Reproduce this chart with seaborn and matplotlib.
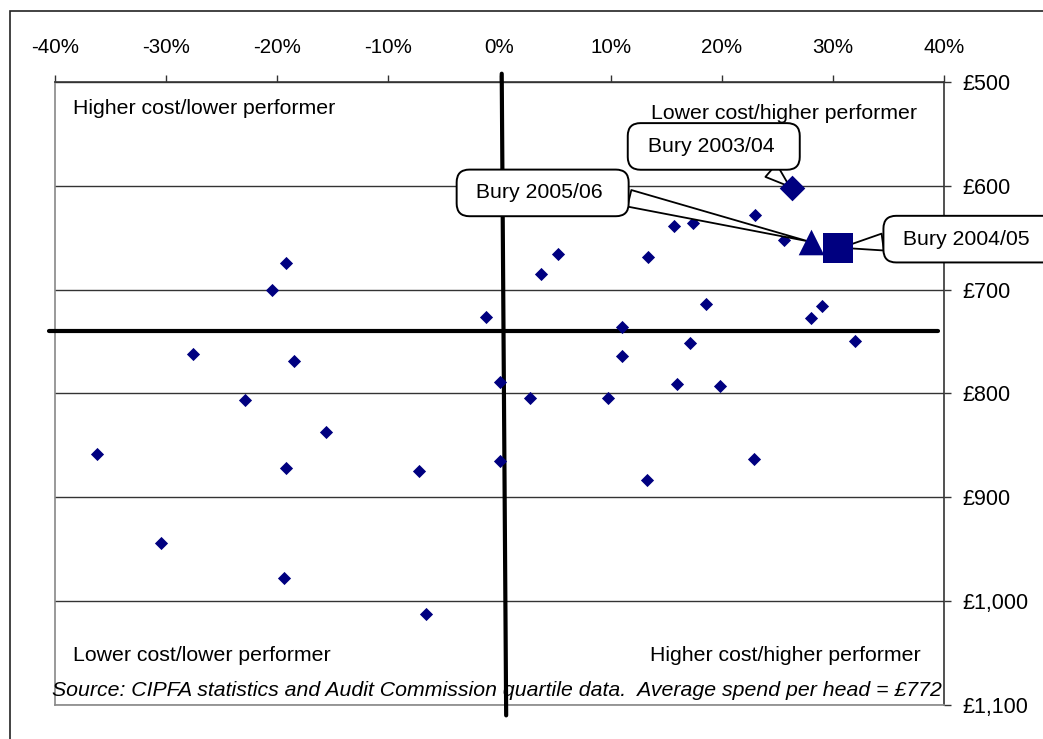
import matplotlib
matplotlib.use('Agg')
import matplotlib.pyplot as plt
import seaborn as sns
import pandas as pd
from matplotlib.patches import Rectangle

# other councils: cost difference from average (%) and spend per head (£)
cost_pct = [-36.2, -30.5, -27.6, -22.9, -20.5, -19.25, -19.25, -19.4, -18.5, -15.6,
            -7.2, -6.6, -1.2, 0.0, 0.0, 2.7, 3.7, 5.25, 9.8, 11.0,
            11.0, 13.3, 13.4, 15.7, 16.0, 17.1, 17.4, 18.56, 19.8, 22.9,
            23.0, 25.6, 28.0, 29.0, 32.0]
spend = [858, 943.5, 762, 806.7, 700.7, 674.7, 871.6, 977.5, 768.8, 836.7,
         874.8, 1011.9, 726, 789, 864.6, 804.7, 685, 666, 804.7, 735.7,
         764, 883.7, 669, 638.7, 791, 751.7, 636, 713.9, 792.9, 863.2,
         628.4, 652.2, 727.7, 715.5, 749.8]

# Bury over three years
bury_labels = ['Bury 2003/04', 'Bury 2004/05', 'Bury 2005/06']
bury_pct = [26.3, 30.5, 28.0]
bury_spend = [602.5, 660, 654]
bury_markers = ['D', 's', '^']
bury_sizes = [170, 480, 340]

x_ticks = [-40, -30, -20, -10, 0, 10, 20, 30, 40]
y_ticks = [500, 600, 700, 800, 900, 1000, 1100]

quadrants = ['Higher cost/lower performer', 'Lower cost/higher performer',
             'Lower cost/lower performer', 'Higher cost/higher performer']
source_note = ('Source: CIPFA statistics and Audit Commission quartile data.  '
               'Average spend per head = £772')

# the two thick dividing lines drawn over the chart
h_line_spend = [740, 740]
h_line_pct = [-40.5, 39.5]
v_line_pct = [0.2, 0.6]
v_line_spend = [492, 1110]

NAVY = '#000080'
FS = 15.3

sns.set_style('white')
plt.rcParams['font.family'] = ['Liberation Sans', 'DejaVu Sans']
plt.rcParams['text.color'] = 'black'

fig = plt.figure(figsize=(10.43, 7.39), dpi=100)
ax = fig.add_axes([55 / 1043, 1 - 705 / 739, 889 / 1043, 623 / 739])

others = pd.DataFrame({'pct': cost_pct, 'spend': spend})
sns.scatterplot(data=others, x='pct', y='spend', marker='D', s=45,
                color=NAVY, edgecolor=NAVY, linewidth=0, ax=ax, zorder=4)

for lab, px, py, mk, sz in zip(bury_labels, bury_pct, bury_spend, bury_markers, bury_sizes):
    sns.scatterplot(x=[px], y=[py], marker=mk, s=sz, color=NAVY,
                    edgecolor=NAVY, linewidth=0, ax=ax, zorder=6)

ax.set_xlim(-40, 40)
ax.set_ylim(1100, 500)
ax.set_xticks(x_ticks)
ax.set_xticklabels([f'{t}%' for t in x_ticks])
ax.set_yticks(y_ticks)
ax.set_yticklabels([f'£{t:,}' for t in y_ticks])
ax.set_xlabel('')
ax.set_ylabel('')

ax.xaxis.tick_top()
ax.yaxis.tick_right()
ax.tick_params(axis='x', top=True, labeltop=True, bottom=False, labelbottom=False,
               direction='out', length=5, width=1, pad=13, labelsize=14.8,
               color='#333333', labelcolor='black')
ax.tick_params(axis='y', right=True, labelright=True, left=False, labelleft=False,
               direction='out', length=5, width=1, pad=8, labelsize=15.5,
               color='#333333', labelcolor='black')

ax.yaxis.grid(True, color='#333333', lw=1)
ax.xaxis.grid(False)
ax.set_axisbelow(True)
for side, col in [('top', '#333333'), ('right', '#333333'),
                  ('left', '#888888'), ('bottom', '#888888')]:
    ax.spines[side].set_color(col)
    ax.spines[side].set_linewidth(1.2)

# thick quadrant lines
ax.plot(h_line_pct, h_line_spend, color='black', lw=3, clip_on=False, zorder=3)
ax.plot(v_line_pct, v_line_spend, color='black', lw=3, clip_on=False, zorder=3)

# quadrant captions
ax.text(0.020, 0.958, quadrants[0], transform=ax.transAxes, fontsize=FS,
        ha='left', va='center', color='black')
ax.text(0.970, 0.950, quadrants[1], transform=ax.transAxes, fontsize=FS,
        ha='right', va='center', color='black')
ax.text(0.020, 0.079, quadrants[2], transform=ax.transAxes, fontsize=FS,
        ha='left', va='center', color='black')
ax.text(0.974, 0.079, quadrants[3], transform=ax.transAxes, fontsize=FS,
        ha='right', va='center', color='black')
ax.text(0.998, 0.024, source_note, transform=ax.transAxes, fontsize=FS,
        style='italic', ha='right', va='center', color='black', zorder=5)

# callout boxes (spaces widen the box the way the original bubbles are)
box = dict(boxstyle='round,pad=0.65,rounding_size=0.6', fc='white', ec='black', lw=1.4)
callouts = [
    (0, (-78, 42), (0.78, 0.0)),
    (1, (131, 9), (0.0, 0.45)),
    (2, (-268, 49), (1.0, 0.4)),
]
for i, offset, rel in callouts:
    ax.annotate(' ' + bury_labels[i] + '  ', xy=(bury_pct[i], bury_spend[i]),
                xytext=offset, textcoords='offset pixels', fontsize=FS,
                color='black', ha='center', va='center', bbox=box, zorder=5,
                annotation_clip=False,
                arrowprops=dict(arrowstyle='wedge,tail_width=0.8,shrink_factor=0.5',
                                fc='white', ec='black', lw=1.3, relpos=rel,
                                shrinkA=0, shrinkB=2))

# outer chart border
fig.add_artist(Rectangle((10 / 1043, -0.05), 1.1, 1 - 11 / 739 + 0.05,
                         transform=fig.transFigure, fill=False, ec='#222222', lw=1.2))

fig.savefig('out.png', dpi=100)
